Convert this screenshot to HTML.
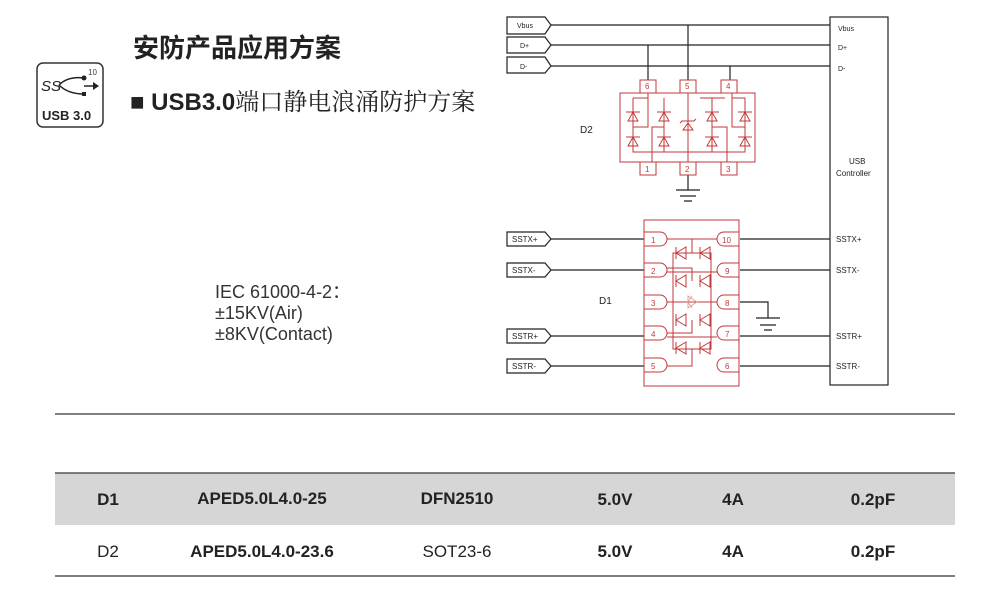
<!DOCTYPE html>
<html><head><meta charset="utf-8"><style>
body{margin:0;width:1000px;height:600px;background:#fff;overflow:hidden;position:relative;font-family:"Liberation Sans","Noto Sans CJK SC",sans-serif}
.t{position:absolute;white-space:nowrap}
</style></head><body>
<div class="t" style="left:133px;top:28px;font-size:26px;font-weight:bold;color:#222">安防产品应用方案</div>
<div class="t" style="left:130px;top:82px;font-size:24px;font-weight:bold;color:#222">■ USB3.0<span style="font-family:'Noto Serif CJK SC',serif;font-weight:normal">端口静电浪涌防护方案</span></div>
<div class="t" style="left:215px;top:282px;font-size:18px;line-height:21px;color:#333">IEC 61000-4-2：<br>±15KV(Air)<br>±8KV(Contact)</div>
<svg width="1000" height="600" style="position:absolute;left:0;top:0" font-family="Liberation Sans, sans-serif">
<rect x="37" y="63" width="66" height="64" rx="6" fill="#fff" stroke="#333" stroke-width="1.5"/>
<text x="41" y="91" font-size="15" font-style="italic" fill="#222">SS</text>
<path d="M59 85 Q68 76 84 78 M59 85 Q68 94 84 94" stroke="#222" stroke-width="1.5" fill="none"/>
<circle cx="84" cy="78" r="2.5" fill="#222"/><rect x="82" y="92" width="4" height="4" fill="#222"/>
<path d="M84 86 L94 86" stroke="#222" stroke-width="1.5"/><path d="M93 82 L99 86 L93 90Z" fill="#222"/>
<text x="88" y="75" font-size="8" fill="#444">10</text>
<text x="42" y="120" font-size="13" font-weight="bold" fill="#222">USB 3.0</text>
<g stroke="#222" stroke-width="1.2" fill="none">
<rect x="830" y="17" width="58" height="368"/>
<path d="M507 17H545L551 25L545 34H507Z M507 37H545L551 45L545 53H507Z M507 57H545L551 66L545 73H507Z"/>
<path d="M551 25H830 M551 45H830 M551 66H830 M648 45V80 M688 25V80 M730 66V80 M688 175V190 M676 190H700 M680 196H696 M684 201H692"/>
<path d="M507 232H545L551 239L545 246H507Z M507 263H545L551 270L545 277H507Z M507 329H545L551 336L545 343H507Z M507 359H545L551 366L545 373H507Z"/>
<path d="M551 239H644 M551 270H644 M551 336H644 M551 366H644 M740 239H830 M740 270H830 M740 336H830 M740 366H830 M740 302H768V318 M756 318H780 M760 325H776 M764 330H772"/>
</g>
<g font-size="7" fill="#222"><text x="517" y="28">Vbus</text><text x="520" y="48">D+</text><text x="520" y="69">D-</text>
<text x="838" y="31">Vbus</text><text x="838" y="50">D+</text><text x="838" y="71">D-</text></g>
<g font-size="8" fill="#222"><text x="512" y="242">SSTX+</text><text x="512" y="273">SSTX-</text><text x="512" y="339">SSTR+</text><text x="512" y="369">SSTR-</text>
<text x="836" y="242">SSTX+</text><text x="836" y="273">SSTX-</text><text x="836" y="339">SSTR+</text><text x="836" y="369">SSTR-</text>
<text x="849" y="164">USB</text><text x="836" y="176">Controller</text></g>
<text x="580" y="133" font-size="10" fill="#222">D2</text>
<text x="599" y="304" font-size="10" fill="#222">D1</text>
<g stroke="#c0393b" stroke-width="1" fill="none">
<rect x="620" y="93" width="135" height="69"/>
<rect x="640" y="80" width="16" height="13"/><rect x="680" y="80" width="16" height="13"/><rect x="721" y="80" width="16" height="13"/>
<rect x="640" y="162" width="16" height="13"/><rect x="680" y="162" width="16" height="13"/><rect x="721" y="162" width="16" height="13"/>
<path d="M633 98H648V93 M633 98V152H745V98H732V93 M633 127H648V93 M664 112V127H652V162 M664 127V152 M688 93V162 M712 112V127H727V162 M712 127V152 M745 127H732V98"/>
<path d="M664 98V112 M712 98V112 M700 98H725"/>
<path d="M626 112H640 M628 121L633 112L638 121Z M626 137H640 M628 146L633 137L638 146Z M657 112H671 M659 121L664 112L669 121Z M657 137H671 M659 146L664 137L669 146Z M705 112H719 M707 121L712 112L717 121Z M705 137H719 M707 146L712 137L717 146Z M738 112H752 M740 121L745 112L750 121Z M738 137H752 M740 146L745 137L750 146Z M680 123L682 121H694L696 119 M683 130L688 123L693 130Z"/>
<rect x="644" y="220" width="95" height="166"/>
<path d="M644 232H660A7 7 0 0 1 660 246H644Z M644 263H660A7 7 0 0 1 660 277H644Z M644 295H660A7 7 0 0 1 660 309H644Z M644 326H660A7 7 0 0 1 660 340H644Z M644 358H660A7 7 0 0 1 660 372H644Z"/>
<path d="M739 232H724A7 7 0 0 0 724 246H739Z M739 263H724A7 7 0 0 0 724 277H739Z M739 295H724A7 7 0 0 0 724 309H739Z M739 326H724A7 7 0 0 0 724 340H739Z M739 358H724A7 7 0 0 0 724 372H739Z"/>
<path d="M667 239H717 M692 239V253 M673 253H711V349H673Z M667 268H692V281 M667 272H717 M667 302H717 M667 333H692V320 M667 337H717 M667 366H692V349"/>
<path d="M676 247V259 M676 253L686 247V259Z M700 247V259 M700 253L710 247V259Z M676 275V287 M676 281L686 275V287Z M700 275V287 M700 281L710 275V287Z M676 314V326 M676 320L686 314V326Z M700 314V326 M700 320L710 314V326Z M676 342V354 M676 348L686 342V354Z M700 342V354 M700 348L710 342V354Z"/>
</g>
<path d="M692 296L688 302L692 308 M688 296V308 L697 302Z" stroke="#e0a0a0" fill="none"/>
<g font-size="8" fill="#c0393b"><text x="645" y="89">6</text><text x="685" y="89">5</text><text x="726" y="89">4</text><text x="645" y="172">1</text><text x="685" y="172">2</text><text x="726" y="172">3</text>
<text x="651" y="243">1</text><text x="651" y="274">2</text><text x="651" y="306">3</text><text x="651" y="337">4</text><text x="651" y="369">5</text>
<text x="722" y="243">10</text><text x="725" y="274">9</text><text x="725" y="306">8</text><text x="725" y="337">7</text><text x="725" y="369">6</text></g>
<rect x="55" y="473" width="900" height="52" fill="#d6d6d6"/>
<g stroke="#555" stroke-width="1.5"><path d="M55 414H955 M55 473H955 M55 576H955"/></g>
<g font-size="17" fill="#222" text-anchor="middle">
<text x="108" y="505" font-weight="bold">D1</text><text x="262" y="504" font-weight="bold">APED5.0L4.0-25</text><text x="457" y="504" font-weight="bold">DFN2510</text>
<text x="615" y="505" font-weight="bold">5.0V</text><text x="733" y="505" font-weight="bold">4A</text><text x="873" y="505" font-weight="bold">0.2pF</text>
<text x="108" y="557">D2</text><text x="262" y="557" font-weight="bold">APED5.0L4.0-23.6</text><text x="457" y="557">SOT23-6</text>
<text x="615" y="557" font-weight="bold">5.0V</text><text x="733" y="557" font-weight="bold">4A</text><text x="873" y="557" font-weight="bold">0.2pF</text>
</g>
</svg>
</body></html>
